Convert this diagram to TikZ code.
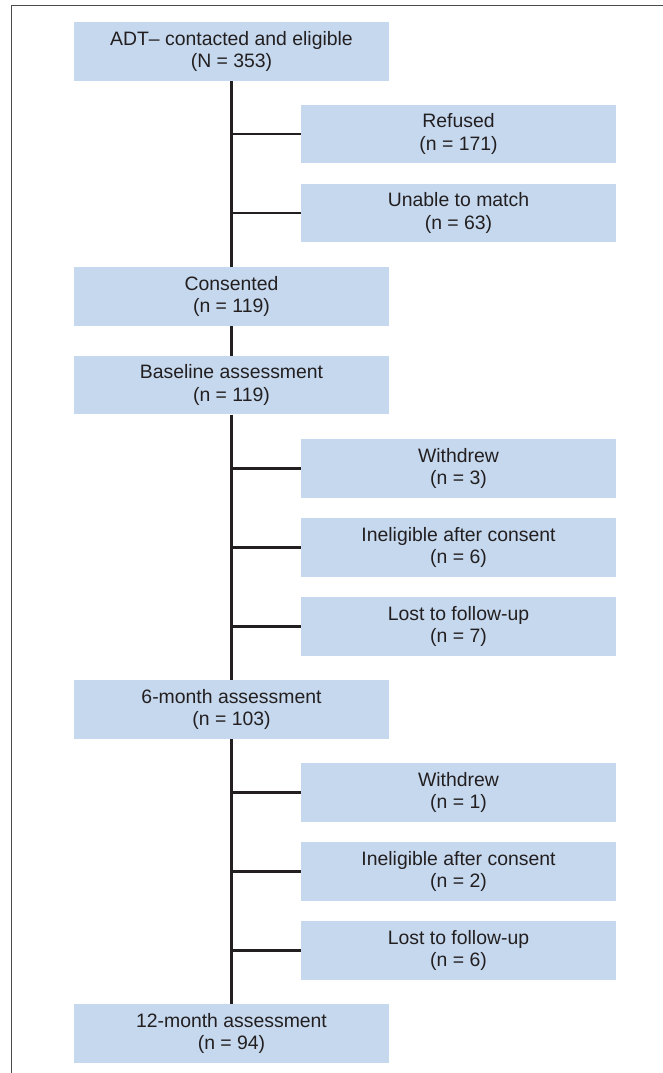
\documentclass[tikz,border=0pt]{standalone}
\usepackage{fontspec}
\setmainfont{Liberation Sans}
\usetikzlibrary{positioning}
\definecolor{boxblue}{RGB}{197,216,238}
\definecolor{inkgray}{RGB}{35,31,32}
\begin{document}
\begin{tikzpicture}[x=1pt, y=-1pt, node distance=20pt,
        flow box/.style={rectangle, fill=boxblue, inner sep=0pt, minimum width=315pt, minimum height=58.6pt,
            align=center, text=inkgray, font=\fontsize{19.4}{22.4}\selectfont},
        main box/.style={flow box},
        side box/.style={flow box},
        trunk/.style={draw=inkgray, line width=2.4pt}]
    \useasboundingbox (0,0) rectangle (663,1073);
    \draw[gray!60!black, line width=1.3pt] (11.5,1073) -- (11.5,5.5) -- (663,5.5);
    % main column
    \node[main box] (contacted) at (231.5,51.5) {ADT– contacted and eligible\\(N = 353)};
    \node[main box] (consented) [below=186.2pt of contacted] {Consented\\(n = 119)};
    \node[main box] (baseline) [below=29.3pt of consented] {Baseline assessment\\(n = 119)};
    \node[main box] (sixmonth) [below=265.3pt of baseline] {6-month assessment\\(n = 103)};
    \node[main box] (twelvemonth) [below=265.3pt of sixmonth] {12-month assessment\\(n = 94)};
    % exclusions
    \node[side box] (refused) [below=23.3pt of contacted, xshift=227pt] {Refused\\(n = 171)};
    \node[side box] (unable) [below=of refused] {Unable to match\\(n = 63)};
    \node[side box] (withdrewA) [below=24.3pt of baseline, xshift=227pt] {Withdrew\\(n = 3)};
    \node[side box] (ineligA) [below=of withdrewA] {Ineligible after consent\\(n = 6)};
    \node[side box] (lostA) [below=of ineligA] {Lost to follow-up\\(n = 7)};
    \node[side box] (withdrewB) [below=24.3pt of sixmonth, xshift=227pt] {Withdrew\\(n = 1)};
    \node[side box] (ineligB) [below=of withdrewB] {Ineligible after consent\\(n = 2)};
    \node[side box] (lostB) [below=of ineligB] {Lost to follow-up\\(n = 6)};
    \draw[trunk] (contacted) -- (consented);
    \draw[trunk] (consented) -- (baseline);
    \draw[trunk] (baseline) -- (sixmonth);
    \draw[trunk] (sixmonth) -- (twelvemonth);
    \foreach \side/\stem in {refused/contacted, unable/contacted, withdrewA/baseline,
            ineligA/baseline, lostA/baseline, withdrewB/sixmonth, ineligB/sixmonth, lostB/sixmonth}
        \draw[trunk] (\side.west) -- (\side.west -| \stem.south);
\end{tikzpicture}
\end{document}
